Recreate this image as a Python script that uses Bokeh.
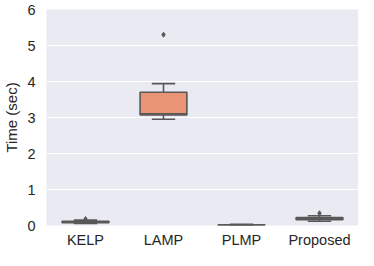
from bokeh.plotting import figure
from bokeh.models import Range1d, FixedTicker, ColumnDataSource
from bokeh.transform import dodge
from bokeh.embed import file_html
from bokeh.resources import INLINE

methods = ["KELP", "LAMP", "PLMP", "Proposed"]
whisker_low = [0.06, 2.95, 0.005, 0.12]
q1 = [0.08, 3.07, 0.010, 0.16]
median = [0.10, 3.10, 0.015, 0.19]
q3 = [0.12, 3.70, 0.020, 0.22]
whisker_high = [0.15, 3.94, 0.030, 0.27]
colors = ["#71B7A1", "#E99575", "#95A3C3", "#DC96C1"]

outlier_method = ["KELP", "LAMP", "Proposed"]
outlier_value = [0.18, 5.30, 0.34]

y_ticks = [0, 1, 2, 3, 4, 5, 6]

LINE = "#585858"
TEXT = "#262626"

src = ColumnDataSource(dict(m=methods, wl=whisker_low, q1=q1, med=median,
                            q3=q3, wh=whisker_high, c=colors))
osrc = ColumnDataSource(dict(m=outlier_method, v=outlier_value))

p = figure(x_range=methods, y_range=Range1d(0, 6), width=358, height=250,
           output_backend="svg", toolbar_location=None,
           min_border_left=0, min_border_right=0, min_border_top=9,
           min_border_bottom=0)

p.background_fill_color = "#EAEAF2"
p.border_fill_color = "white"
p.outline_line_color = None
p.xgrid.grid_line_color = None
p.ygrid.grid_line_color = "white"
p.ygrid.grid_line_width = 1.2

p.segment(x0="m", y0="wl", x1="m", y1="q1", source=src, line_color=LINE, line_width=1.6)
p.segment(x0="m", y0="q3", x1="m", y1="wh", source=src, line_color=LINE, line_width=1.6)
p.segment(x0=dodge("m", -0.15, range=p.x_range), y0="wl",
          x1=dodge("m", 0.15, range=p.x_range), y1="wl",
          source=src, line_color=LINE, line_width=1.6)
p.segment(x0=dodge("m", -0.15, range=p.x_range), y0="wh",
          x1=dodge("m", 0.15, range=p.x_range), y1="wh",
          source=src, line_color=LINE, line_width=1.6)
p.vbar(x="m", bottom="q1", top="q3", width=0.6, source=src,
       fill_color="c", line_color=LINE, line_width=1.6)
p.segment(x0=dodge("m", -0.3, range=p.x_range), y0="med",
          x1=dodge("m", 0.3, range=p.x_range), y1="med",
          source=src, line_color=LINE, line_width=1.6)
p.scatter(x="m", y="v", source=osrc, marker="diamond", size=5,
          fill_color=LINE, line_color=LINE)

p.yaxis.ticker = FixedTicker(ticks=y_ticks)
p.yaxis.axis_label = "Time (sec)"
p.xaxis.axis_label = None
for ax in (p.xaxis[0], p.yaxis[0]):
    ax.axis_line_color = None
    ax.major_tick_line_color = None
    ax.minor_tick_line_color = None
    ax.major_tick_out = 0
    ax.major_tick_in = 0
    ax.minor_tick_out = 0
    ax.minor_tick_in = 0
    ax.major_label_text_font = "Liberation Sans"
    ax.major_label_text_font_size = "14.5px"
    ax.major_label_text_color = TEXT
p.xaxis.major_label_text_line_height = 0.8
p.yaxis.major_label_standoff = 11
p.xaxis.major_label_standoff = 6
p.yaxis.axis_label_text_font = "Liberation Sans"
p.yaxis.axis_label_text_font_size = "15px"
p.yaxis.axis_label_text_font_style = "normal"
p.yaxis.axis_label_text_color = TEXT
p.yaxis.axis_label_standoff = 4

open("out.html", "w").write(file_html(p, INLINE))
